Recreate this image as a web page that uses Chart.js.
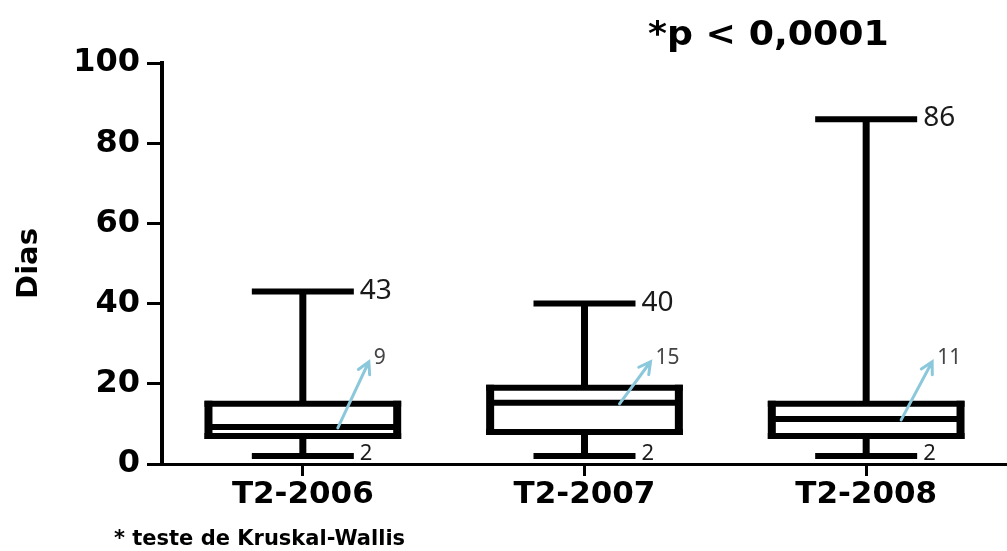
<!DOCTYPE html>
<html>
<head>
<meta charset="utf-8">
<script src="https://cdn.jsdelivr.net/npm/chart.js@4/dist/chart.umd.min.js"></script>
<style>
  html, body { margin: 0; padding: 0; background: #fff; }
  #wrap { width: 1007px; height: 551px; position: relative; }
</style>
</head>
<body>
<div id="wrap"><canvas id="box-chart"></canvas></div>
<script>
const categories = ['T2-2006', 'T2-2007', 'T2-2008'];
const minValues = [2, 2, 2];
const q1Values = [7, 8, 7];
const medianValues = [9, 15, 11];
const q3Values = [15, 19, 15];
const maxValues = [43, 40, 86];
const yTicks = [0, 20, 40, 60, 80, 100];

const pText = '*p < 0,0001';
const footText = '* teste de Kruskal-Wallis';

const boxPlugin = {
    id: 'boxplot',
    beforeDatasetsDraw(chart) {
        let ctx = chart.ctx;
        let x = chart.scales.x, y = chart.scales.y;
        ctx.save();
        ctx.strokeStyle = '#000';
        ctx.lineCap = 'butt';
        categories.forEach((c, i) => {
            let cx = x.getPixelForValue(i);
            // whisker stems
            ctx.lineWidth = 7;
            ctx.beginPath();
            ctx.moveTo(cx, y.getPixelForValue(minValues[i]));
            ctx.lineTo(cx, y.getPixelForValue(maxValues[i]));
            ctx.stroke();
            // caps
            ctx.lineWidth = 6;
            [minValues[i], maxValues[i]].forEach(v => {
                let py = y.getPixelForValue(v);
                ctx.beginPath();
                ctx.moveTo(cx - 51, py);
                ctx.lineTo(cx + 51, py);
                ctx.stroke();
            });
        });
        ctx.restore();
    },
    afterDatasetsDraw(chart) {
        let ctx = chart.ctx;
        let x = chart.scales.x, y = chart.scales.y;
        let meta = chart.getDatasetMeta(0);
        ctx.save();
        categories.forEach((c, i) => {
            let cx = x.getPixelForValue(i);
            let bar = meta.data[i];
            let half = bar.width / 2;
            let top = y.getPixelForValue(q3Values[i]);
            let bot = y.getPixelForValue(q1Values[i]);
            ctx.strokeStyle = '#000';
            ctx.lineCap = 'butt';
            // box outline, centred on the quartiles
            ctx.lineWidth = 6;
            ctx.beginPath();
            ctx.moveTo(cx - half - 4, top);
            ctx.lineTo(cx + half + 4, top);
            ctx.moveTo(cx - half - 4, bot);
            ctx.lineTo(cx + half + 4, bot);
            ctx.stroke();
            ctx.lineWidth = 8;
            ctx.beginPath();
            ctx.moveTo(cx - half, top - 3);
            ctx.lineTo(cx - half, bot + 3);
            ctx.moveTo(cx + half, top - 3);
            ctx.lineTo(cx + half, bot + 3);
            ctx.stroke();

            // median line
            let my = y.getPixelForValue(medianValues[i]);
            ctx.lineWidth = 6;
            ctx.beginPath();
            ctx.moveTo(cx - half, my - 1);
            ctx.lineTo(cx + half, my - 1);
            ctx.stroke();

            // max / min labels
            ctx.fillStyle = '#1a1a1a';
            ctx.textAlign = 'left';
            ctx.textBaseline = 'middle';
            ctx.font = '28px "Noto Sans"';
            ctx.fillText(String(maxValues[i]), cx + 57, y.getPixelForValue(maxValues[i]) - 1);
            ctx.font = '22px "Noto Sans"';
            ctx.fillText(String(minValues[i]), cx + 57, y.getPixelForValue(minValues[i]) - 2);

            // median label with arrow
            ctx.fillStyle = '#444';
            ctx.font = '21px "Noto Sans"';
            ctx.fillText(String(medianValues[i]), cx + 71, y.getPixelForValue(26.5));

            let tx = cx + 35, ty = my;
            let hx = cx + 66, hy = y.getPixelForValue(25.5);
            let ang = Math.atan2(hy - ty, hx - tx);
            ctx.strokeStyle = '#8cc8dc';
            ctx.lineWidth = 3;
            ctx.lineCap = 'round';
            ctx.beginPath();
            ctx.moveTo(tx, ty);
            ctx.lineTo(hx, hy);
            ctx.moveTo(hx - 13 * Math.cos(ang - 0.5), hy - 13 * Math.sin(ang - 0.5));
            ctx.lineTo(hx, hy);
            ctx.lineTo(hx - 13 * Math.cos(ang + 0.5), hy - 13 * Math.sin(ang + 0.5));
            ctx.stroke();
        });
        ctx.restore();
    },
    afterDraw(chart) {
        let ctx = chart.ctx;
        ctx.save();
        ctx.fillStyle = '#000';
        ctx.textBaseline = 'middle';
        ctx.textAlign = 'left';
        ctx.font = 'bold 33px "DejaVu Sans"';
        ctx.translate(648, 36);
        ctx.scale(1.1, 1);
        ctx.fillText(pText, 0, 0);
        ctx.restore();
        ctx.save();
        ctx.fillStyle = '#000';
        ctx.textBaseline = 'middle';
        ctx.font = 'bold 21px "DejaVu Sans"';
        ctx.fillText(footText, 114, 540);
        ctx.restore();
    }
};

let ctx = document.getElementById('box-chart').getContext('2d');
let chart = new Chart(ctx, {
    type: 'bar',
    data: {
        labels: categories,
        datasets: [{
            label: 'Dias',
            data: categories.map((c, i) => [q1Values[i], q3Values[i]]),
            backgroundColor: '#fff',
            borderWidth: 0,
            categoryPercentage: 1,
            barPercentage: 0.67
        }]
    },
    options: {
        responsive: true,
        maintainAspectRatio: false,
        animation: false,
        layout: { padding: { top: 63, right: 0, bottom: 0, left: 0 } },
        plugins: {
            legend: { display: false },
            tooltip: { enabled: false }
        },
        scales: {
            x: {
                afterFit: s => { s.height = 87; },
                grid: {
                    offset: false,
                    drawOnChartArea: false,
                    tickLength: 12,
                    lineWidth: 3,
                    color: '#000'
                },
                border: { color: '#000', width: 3 },
                ticks: {
                    color: '#000',
                    padding: 0,
                    font: { family: 'DejaVu Sans', weight: 'bold', size: 31 }
                }
            },
            y: {
                min: 0,
                max: 100,
                afterFit: s => { s.width = 162; },
                afterBuildTicks: s => { s.ticks = yTicks.map(v => ({ value: v })); },
                grid: {
                    drawOnChartArea: false,
                    tickLength: 15,
                    lineWidth: 3,
                    color: '#000'
                },
                border: { color: '#000', width: 4 },
                ticks: {
                    color: '#000',
                    padding: 7,
                    font: { family: 'DejaVu Sans', weight: 'bold', size: 32 }
                },
                title: {
                    display: true,
                    text: 'Dias',
                    color: '#000',
                    padding: { top: 12, bottom: 0 },
                    font: { family: 'DejaVu Sans', weight: 'bold', size: 29 }
                }
            }
        }
    },
    plugins: [boxPlugin]
});
</script>
</body>
</html>
